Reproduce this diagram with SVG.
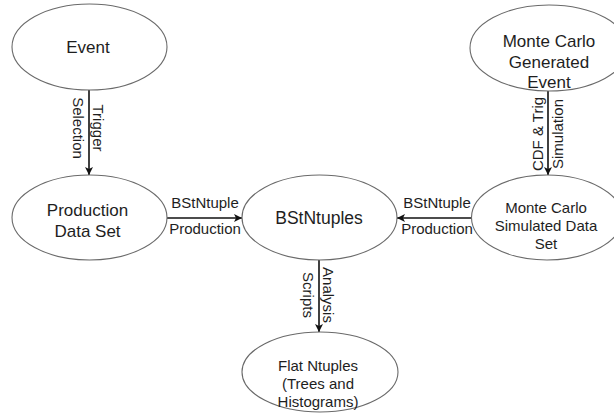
<svg xmlns="http://www.w3.org/2000/svg" width="614" height="414" viewBox="0 0 614 414">
  <defs>
    <marker id="arr" markerUnits="userSpaceOnUse" markerWidth="10" markerHeight="10" viewBox="0 0 10 10" refX="9" refY="5" orient="auto">
      <path d="M1,1 L9,5 L1,9 L3,5 Z" fill="#111"/>
    </marker>
  </defs>
  <style>
    .node ellipse { fill: #ffffff; stroke: #6a6a6a; stroke-width: 1.1; }
    text { font-family: "Liberation Sans", Arial, sans-serif; fill: #1e1e1e; }
    .big { font-size: 17px; text-anchor: middle; }
    .mid { font-size: 15px; text-anchor: middle; }
    .lbl { font-size: 15px; text-anchor: middle; }
    .edge line { stroke: #111; stroke-width: 1.6; marker-end: url(#arr); }
  </style>
  <rect width="614" height="414" fill="#ffffff"/>

  <g id="connectors" class="edge">
    <line x1="89" y1="90" x2="89" y2="175"/>
    <line x1="548" y1="91" x2="548" y2="175"/>
    <line x1="167" y1="218" x2="242" y2="218"/>
    <line x1="472" y1="218" x2="397" y2="218"/>
    <line x1="319" y1="260" x2="319" y2="332"/>
  </g>

  <g id="edge-labels">
    <text class="lbl" transform="translate(89,128) rotate(90)"><tspan x="0" y="-4">Trigger</tspan><tspan x="0" y="16">Selection</tspan></text>
    <text class="lbl" transform="translate(548,134) rotate(-90)"><tspan x="0" y="-5">CDF &amp; Trig</tspan><tspan x="0" y="15">Simulation</tspan></text>
    <text class="lbl" transform="translate(319,295) rotate(90)"><tspan x="0" y="-4">Analysis</tspan><tspan x="0" y="16">Scripts</tspan></text>
    <text class="lbl" x="205" y="208">BStNtuple</text>
    <text class="lbl" x="205" y="234">Production</text>
    <text class="lbl" x="437" y="208">BStNtuple</text>
    <text class="lbl" x="437" y="234">Production</text>
  </g>

  <g id="event" class="node">
    <ellipse cx="89.5" cy="47" rx="77.5" ry="43"/>
    <text class="big" x="88" y="53">Event</text>
  </g>

  <g id="mc-generated" class="node">
    <ellipse cx="549" cy="48" rx="79" ry="43"/>
    <text class="big" x="549" y="47">Monte Carlo</text>
    <text class="big" x="549" y="67.5">Generated</text>
    <text class="big" x="549" y="88">Event</text>
  </g>

  <g id="production-data-set" class="node">
    <ellipse cx="89.5" cy="217.5" rx="77.5" ry="42.5"/>
    <text class="big" x="87.5" y="216">Production</text>
    <text class="big" x="87.5" y="236.5">Data Set</text>
  </g>

  <g id="bstntuples" class="node">
    <ellipse cx="319.5" cy="217.5" rx="77.5" ry="42.5"/>
    <text class="big" x="319" y="224" style="font-size:17.5px">BStNtuples</text>
  </g>

  <g id="mc-simulated" class="node">
    <ellipse cx="547" cy="217.5" rx="75.5" ry="42.5"/>
    <text class="mid" x="546" y="213">Monte Carlo</text>
    <text class="mid" x="546" y="231">Simulated Data</text>
    <text class="mid" x="546" y="249">Set</text>
  </g>

  <g id="flat-ntuples" class="node">
    <ellipse cx="320" cy="372" rx="78" ry="40"/>
    <text class="mid" x="318" y="371">Flat Ntuples</text>
    <text class="mid" x="318" y="389">(Trees and</text>
    <text class="mid" x="318" y="407">Histograms)</text>
  </g>
</svg>
